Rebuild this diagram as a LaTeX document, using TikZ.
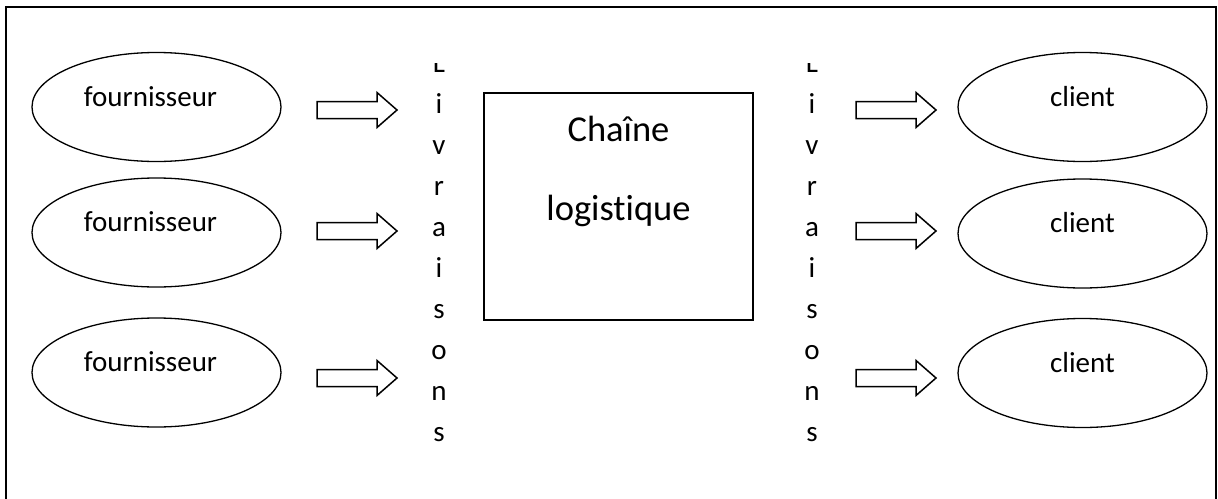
\documentclass[tikz,border=0pt]{standalone}
\usepackage{fontspec}
\setmainfont{Carlito}[Ligatures=NoCommon]
\usetikzlibrary{shapes.geometric}
\begin{document}
\begin{tikzpicture}[x=1pt,y=-1pt,
  actor/.style={draw, ellipse, line width=1.3pt, minimum width=249pt,
    minimum height=109pt, inner sep=0pt, text height=20pt, text depth=22pt,
    font=\fontsize{29}{35}\selectfont},
  chainbox/.style={draw, line width=2pt, minimum width=269pt,
    minimum height=227pt, inner sep=0pt},
  bigtext/.style={anchor=base, inner sep=0pt, font=\fontsize{36.5}{44}\selectfont},
  letter/.style={anchor=base, inner sep=0pt, font=\fontsize{29}{35}\selectfont},
  blockarrow/.pic={\draw[line width=1.5pt, line join=miter]
    (0,-8.5) -- (60,-8.5) -- (60,-17.5) -- (80,0) -- (60,17.5) -- (60,8.5)
    -- (0,8.5) -- cycle;}
]
\useasboundingbox (0,0) rectangle (1218,498);

% open frame (its lower edge lies below the page)
\draw[line width=2pt] (6,510) -- (6,7) -- (1216,7) -- (1216,510);

% suppliers (ellipse outlines, text set slightly left of centre)
\node[actor] (f1) at (156.5,107)   {};
\node[actor] (f2) at (156.5,232.5) {};
\node[actor] (f3) at (156.5,372.5) {};
\foreach \s in {f1,f2,f3}
  \node[letter, xshift=-6pt, yshift=1pt] (\s text) at (\s.center) {fournisseur};

% customers
\node[actor] (c1) at (1082.5,107)   {client};
\node[actor] (c2) at (1082.5,233.5) {client};
\node[actor] (c3) at (1082.5,373)   {client};

% supply chain block
\node[chainbox] (chain) at (618.5,206.5) {};
\node[bigtext] (chainA) at (618.5,141) {Chaîne};
\node[bigtext] (chainB) at (618.5,220) {logistique};

% block arrows
\pic at (317,110) {blockarrow};
\pic at (317,231) {blockarrow};
\pic at (317,378) {blockarrow};
\pic at (856,110) {blockarrow};
\pic at (856,231) {blockarrow};
\pic at (856,378) {blockarrow};

% vertical "Livraisons" columns, clipped at the top
\begin{scope}
  \clip (400,63) rectangle (480,498);
  \foreach \ch [count=\k from 0] in {L,i,v,r,a,i,s,o,n,s}
    \node[letter] (lin\k) at (439,72+41*\k) {\ch};
\end{scope}
\begin{scope}
  \clip (772,63) rectangle (852,498);
  \foreach \ch [count=\k from 0] in {L,i,v,r,a,i,s,o,n,s}
    \node[letter] (lout\k) at (812,72+41*\k) {\ch};
\end{scope}
\end{tikzpicture}
\end{document}
